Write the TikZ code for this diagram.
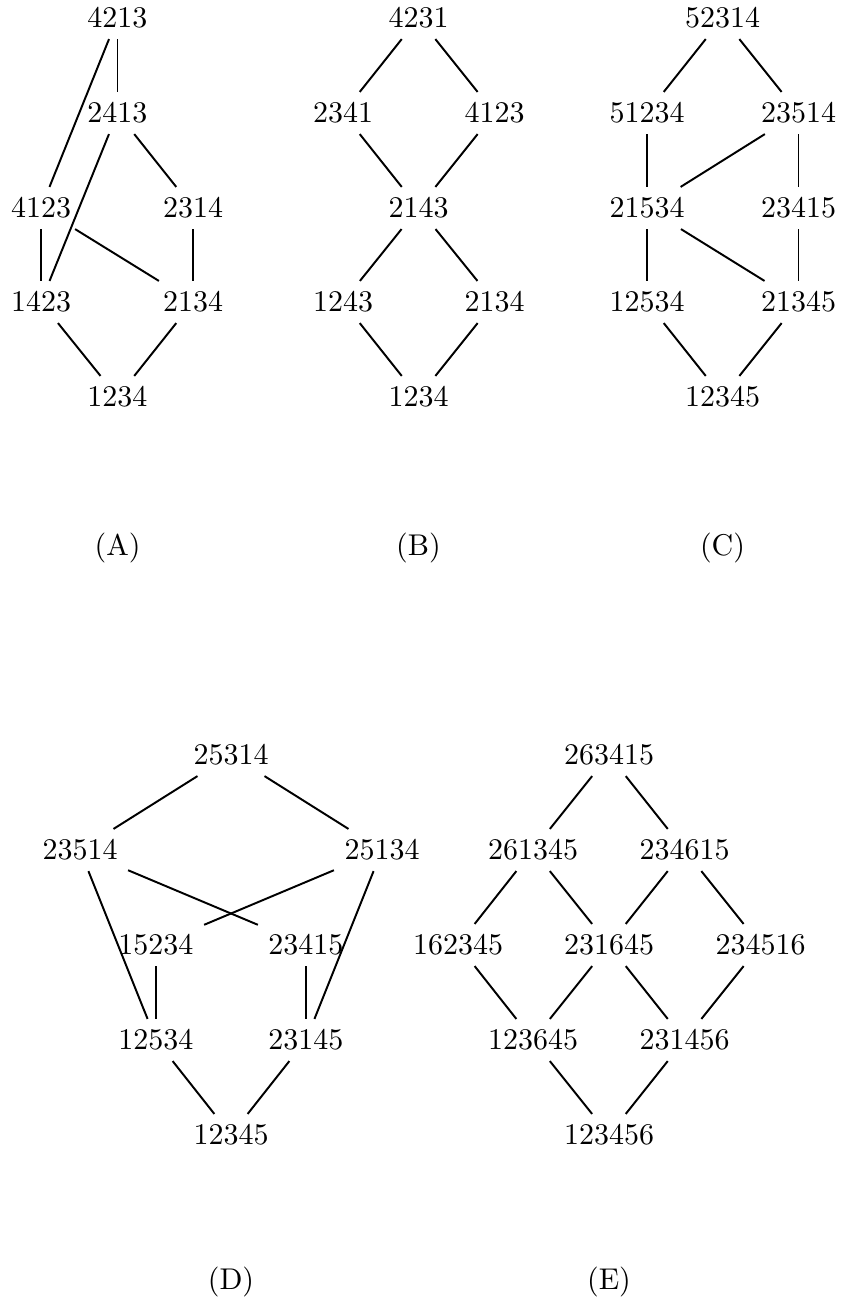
\documentclass[tikz,border=0pt]{standalone}
\begin{document}
\begin{tikzpicture}[x=0.33333pt,y=-0.33333pt,
  perm/.style={inner sep=.3333em},
  caption/.style={inner sep=.3333em},
  edge/.style={line width=0.65pt}]
\useasboundingbox (0,0) rectangle (845,1304);
% ---------- (A)
\node[perm] (a4213) at (117.5,18) {4213};
\node[perm] (a2413) at (117.5,113) {2413};
\node[perm] (a4123) at (41,208) {4123};
\node[perm] (a2314) at (193,208) {2314};
\node[perm] (a1423) at (41,302) {1423};
\node[perm] (a2134) at (193,302) {2134};
\node[perm] (a1234) at (117.5,397) {1234};
\draw[edge] (a4213) -- (a2413);
\draw[edge] (a4213) -- (a4123);
\draw[edge] (a2413) -- (a1423);
\draw[edge] (a2413) -- (a2314);
\draw[edge] (a4123) -- (a1423);
\draw[edge] (a4123) -- (a2134);
\draw[edge] (a2314) -- (a2134);
\draw[edge] (a1423) -- (a1234);
\draw[edge] (a2134) -- (a1234);
\node[caption] (capA) at (117.5,548) {(A)};
% ---------- (B)
\node[perm] (b4231) at (418.5,18) {4231};
\node[perm] (b2341) at (343,113) {2341};
\node[perm] (b4123) at (494.5,113) {4123};
\node[perm] (b2143) at (418.5,208) {2143};
\node[perm] (b1243) at (343,302) {1243};
\node[perm] (b2134) at (494.5,302) {2134};
\node[perm] (b1234) at (418.5,397) {1234};
\draw[edge] (b4231) -- (b2341);
\draw[edge] (b4231) -- (b4123);
\draw[edge] (b2341) -- (b2143);
\draw[edge] (b4123) -- (b2143);
\draw[edge] (b2143) -- (b1243);
\draw[edge] (b2143) -- (b2134);
\draw[edge] (b1243) -- (b1234);
\draw[edge] (b2134) -- (b1234);
\node[caption] (capB) at (418.5,548) {(B)};
% ---------- (C)
\node[perm] (c52314) at (722.5,18) {52314};
\node[perm] (c51234) at (647,113) {51234};
\node[perm] (c23514) at (798.5,113) {23514};
\node[perm] (c21534) at (647,208) {21534};
\node[perm] (c23415) at (798.5,208) {23415};
\node[perm] (c12534) at (647,302) {12534};
\node[perm] (c21345) at (798.5,302) {21345};
\node[perm] (c12345) at (722.5,397) {12345};
\draw[edge] (c52314) -- (c51234);
\draw[edge] (c52314) -- (c23514);
\draw[edge] (c51234) -- (c21534);
\draw[edge] (c23514) -- (c21534);
\draw[edge] (c23514) -- (c23415);
\draw[edge] (c21534) -- (c12534);
\draw[edge] (c21534) -- (c21345);
\draw[edge] (c23415) -- (c21345);
\draw[edge] (c12534) -- (c12345);
\draw[edge] (c21345) -- (c12345);
\node[caption] (capC) at (722.5,548) {(C)};
% ---------- (D)
\node[perm] (d25314) at (231,755) {25314};
\node[perm] (d23514) at (80,850) {23514};
\node[perm] (d25134) at (382,850) {25134};
\node[perm] (d15234) at (156,945) {15234};
\node[perm] (d23415) at (306,945) {23415};
\node[perm] (d12534) at (156,1040) {12534};
\node[perm] (d23145) at (306,1040) {23145};
\node[perm] (d12345) at (231,1135) {12345};
\draw[edge] (d25314) -- (d23514);
\draw[edge] (d25314) -- (d25134);
\draw[edge] (d23514) -- (d12534);
\draw[edge] (d23514) -- (d23415);
\draw[edge] (d25134) -- (d15234);
\draw[edge] (d25134) -- (d23145);
\draw[edge] (d15234) -- (d12534);
\draw[edge] (d23415) -- (d23145);
\draw[edge] (d12534) -- (d12345);
\draw[edge] (d23145) -- (d12345);
\node[caption] (capD) at (231,1282) {(D)};
% ---------- (E)
\node[perm] (e263415) at (609,755) {263415};
\node[perm] (e261345) at (533,850) {261345};
\node[perm] (e234615) at (684.5,850) {234615};
\node[perm] (e162345) at (458,945) {162345};
\node[perm] (e231645) at (609,945) {231645};
\node[perm] (e234516) at (760.5,945) {234516};
\node[perm] (e123645) at (533,1040) {123645};
\node[perm] (e231456) at (684.5,1040) {231456};
\node[perm] (e123456) at (609,1135) {123456};
\draw[edge] (e263415) -- (e261345);
\draw[edge] (e263415) -- (e234615);
\draw[edge] (e261345) -- (e162345);
\draw[edge] (e261345) -- (e231645);
\draw[edge] (e234615) -- (e231645);
\draw[edge] (e234615) -- (e234516);
\draw[edge] (e162345) -- (e123645);
\draw[edge] (e231645) -- (e123645);
\draw[edge] (e231645) -- (e231456);
\draw[edge] (e234516) -- (e231456);
\draw[edge] (e123645) -- (e123456);
\draw[edge] (e231456) -- (e123456);
\node[caption] (capE) at (609,1282) {(E)};
\end{tikzpicture}
\end{document}
